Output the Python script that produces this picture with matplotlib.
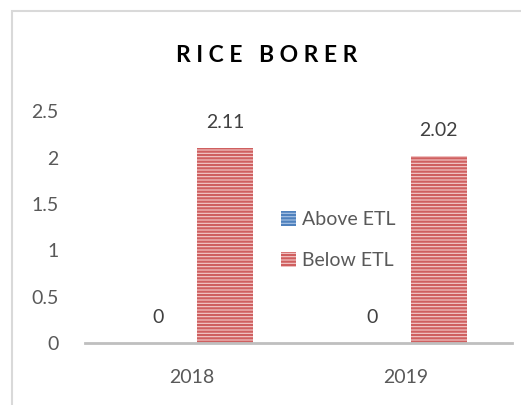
import matplotlib
matplotlib.use("Agg")
import matplotlib.pyplot as plt
from matplotlib.patches import Rectangle
import numpy as np

categories = ["2018", "2019"]
above_etl = [0, 0]
below_etl = [2.11, 2.02]
series_names = ["Above ETL", "Below ETL"]
yticks = [0, 0.5, 1, 1.5, 2, 2.5]
title = "RICE BORER"

plt.rcParams['font.family'] = ['Lato', 'DejaVu Sans']
plt.rcParams['hatch.linewidth'] = 1.6

W, H = 521, 405
fig = plt.figure(figsize=(W/100, H/100), dpi=100)

def fx(px): return px / W
def fy(py): return 1 - py / H

ax = fig.add_axes([fx(85), fy(343), fx(512) - fx(85), fy(111.5) - fy(343)])

x = np.arange(len(categories))
bw = 0.262
off = 0.157
blue = '#4f81bd'
red = '#c0504d'
b1 = ax.bar(x - off, above_etl, bw, facecolor='#a9c4e6', edgecolor=blue, hatch='-----', linewidth=0, label=series_names[0])
b2 = ax.bar(x + off, below_etl, bw, facecolor='#f4cccc', edgecolor='#cf5f5f', hatch='-----', linewidth=0, label=series_names[1])

for rects, vals in ((b1, above_etl), (b2, below_etl)):
    for r, v in zip(rects, vals):
        ax.annotate(f"{v:g}", (r.get_x() + r.get_width()/2, v), xytext=(0, 12),
                    textcoords='offset points', ha='center', va='bottom',
                    fontsize=14, color='#404040')

ax.set_xlim(-0.5, 1.5)
ax.set_ylim(0, 2.5)
ax.set_yticks(yticks)
ax.set_yticklabels([f"{t:g}" for t in yticks])
ax.set_xticks(x)
ax.set_xticklabels(categories)
for s in ['top', 'right', 'left']:
    ax.spines[s].set_visible(False)
ax.spines['bottom'].set_color('#bfbfbf')
ax.spines['bottom'].set_linewidth(2)
ax.tick_params(axis='both', length=0, labelsize=14, colors='#595959')
ax.tick_params(axis='y', pad=19)
ax.tick_params(axis='x', pad=19)

leg = ax.legend(loc='center left', bbox_to_anchor=((271 - 85) / 427, (343 - 240) / 231.5),
                bbox_transform=ax.transAxes,
                frameon=False, fontsize=14, handlelength=0.8, handleheight=0.8,
                labelspacing=1.25, handletextpad=0.3, borderpad=0)
for t in leg.get_texts():
    t.set_color('#595959')

spaced = "   ".join(" ".join(w) for w in title.split())
fig.text(fx(267), fy(56), spaced,
         ha='center', va='center', fontsize=16.5, fontweight='bold', color='#000000')

fig.patches.append(Rectangle((fx(12), -0.1), 1.2, fy(11) + 0.1, transform=fig.transFigure,
                             fill=False, edgecolor='#d9d9d9', linewidth=1.5))

fig.savefig("out.png", dpi=100)
